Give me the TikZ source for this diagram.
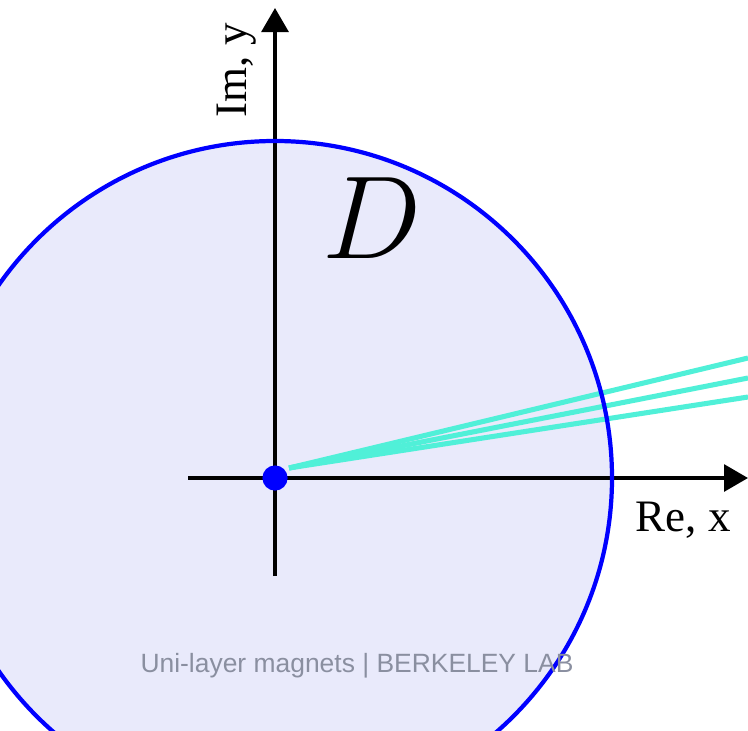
\RequirePackage{fix-cm}
\documentclass[tikz,border=0pt]{standalone}
\usepackage{fontspec}
\setmainfont{Liberation Serif}
\newfontfamily\markfont{Liberation Sans}
\usetikzlibrary{arrows.meta}
\definecolor{diskfill}{RGB}{233,234,251}
\definecolor{diskline}{RGB}{0,0,255}
\definecolor{ray}{RGB}{80,240,216}
\definecolor{markgray}{RGB}{138,143,160}

\begin{document}
\begin{tikzpicture}[
  x=0.025cm, y=-0.025cm,
  axis/.style={draw=black, line width=2.6pt,
               -{Triangle[length=0.6cm, width=0.67cm]}},
  rayline/.style={draw=ray, line width=3.6pt},
  axlabel/.style={font=\fontsize{32}{36}\selectfont, inner sep=0pt},
]
\useasboundingbox (0,0) rectangle (748,730);

% disk
\fill[diskfill] (275,478) circle[radius=337];

% axes
\coordinate (xl) at (188,478);
\coordinate (xr) at (748,478);
\coordinate (yb) at (275,576);
\coordinate (yt) at (275,8);
\draw[axis] (xl) -- (xr);
\draw[axis] (yb) -- (yt);

% rays
\coordinate (src) at (289,468);
\coordinate (r1) at (748,358);
\coordinate (r2) at (748,378);
\coordinate (r3) at (748,397);
\draw[rayline] (src) -- (r1);
\draw[rayline] (src) -- (r2);
\draw[rayline] (src) -- (r3);

% disk border on top
\draw[diskline, line width=3pt] (275,478) circle[radius=337];

\node[circle, fill=diskline, minimum size=0.63cm, inner sep=0pt] (orig) at (275,478) {};

\node[axlabel, anchor=base] (lblRe) at (683,531) {Re, x};
\node[axlabel, rotate=90] (lblIm) at (237,70) {Im, y};
\node[inner sep=0pt, anchor=base, font=\fontsize{84}{90}\selectfont] (lblD) at (372,258) {$D$};
\node[inner sep=0pt, anchor=base, text=markgray, font=\markfont\fontsize{18.8}{22}\selectfont] (mark) at (357,672) {Uni-layer magnets | BERKELEY LAB};
\end{tikzpicture}
\end{document}
